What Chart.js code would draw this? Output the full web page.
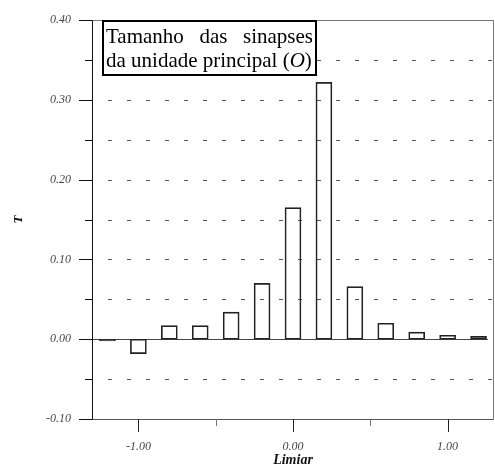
<!DOCTYPE html>
<html>
<head>
<meta charset="utf-8">
<script src="https://cdn.jsdelivr.net/npm/chart.js@4/dist/chart.umd.min.js"></script>
<style>
  html, body { margin: 0; padding: 0; background: #fff; }
  #wrap { width: 495px; height: 469px; }
</style>
</head>
<body>
<div id="wrap"><canvas id="c" width="495" height="469"></canvas></div>
<script>
// data
const thresholds = [-1.2, -1.0, -0.8, -0.6, -0.4, -0.2, 0.0, 0.2, 0.4, 0.6, 0.8, 1.0, 1.2]
const sizes      = [-0.002, -0.018, 0.017, 0.017, 0.034, 0.070, 0.165, 0.322, 0.066, 0.020, 0.009, 0.005, 0.0035]

const xTicks      = [-1, 0, 1]
const xMinorTicks = [-0.5, 0.5]
const yTicks      = [-0.1, 0, 0.1, 0.2, 0.3, 0.4]
const yMinorTicks = [-0.05, 0.05, 0.15, 0.25, 0.35]
const yGrid       = [-0.1, -0.05, 0, 0.05, 0.1, 0.15, 0.2, 0.25, 0.3, 0.35, 0.4]

const legendLine1 = ['Tamanho', 'das', 'sinapses']
const legendLine2 = ['da unidade principal (', 'O', ')']

const SERIF = "'Liberation Serif','Times New Roman',serif"
const TICK = { color: '#444', font: { family: SERIF, size: 12, style: 'italic' } }

// grid, frame, tick marks and the boxed caption
const framePlugin = {
  id: 'frame',
  beforeDatasetsDraw (chart) {
    const { ctx, chartArea: a, scales: { x, y } } = chart
    ctx.save()
    ctx.lineWidth = 1
    // dashed horizontal grid
    ctx.strokeStyle = '#555'
    ctx.setLineDash([4, 15])
    ctx.lineDashOffset = -16
    yGrid.forEach(v => {
      if (v === 0) return
      const py = Math.round(y.getPixelForValue(v)) + 0.5
      ctx.beginPath(); ctx.moveTo(a.left, py); ctx.lineTo(a.right, py); ctx.stroke()
    })
    ctx.setLineDash([])
    // zero line
    const z = Math.round(y.getPixelForValue(0)) + 0.5
    ctx.strokeStyle = '#444'
    ctx.beginPath(); ctx.moveTo(a.left, z); ctx.lineTo(a.right - 6, z); ctx.stroke()
    // frame
    const L = Math.round(a.left) + 0.5, R = Math.round(a.right) - 0.5
    const T = Math.round(a.top) + 0.5, B = Math.round(a.bottom) + 0.5
    ctx.strokeStyle = '#777'
    ctx.beginPath(); ctx.moveTo(L, T); ctx.lineTo(R, T); ctx.lineTo(R, B); ctx.stroke()
    ctx.strokeStyle = '#555'
    ctx.beginPath(); ctx.moveTo(L, B); ctx.lineTo(R, B); ctx.stroke()
    ctx.strokeStyle = '#111'
    ctx.beginPath(); ctx.moveTo(L, T); ctx.lineTo(L, B); ctx.stroke()
    // y tick marks
    yTicks.forEach(v => {
      const py = Math.round(y.getPixelForValue(v)) + 0.5
      ctx.strokeStyle = '#111'
      ctx.beginPath(); ctx.moveTo(a.left - 13, py); ctx.lineTo(a.left, py); ctx.stroke()
    })
    yMinorTicks.forEach(v => {
      const py = Math.round(y.getPixelForValue(v)) + 0.5
      ctx.strokeStyle = '#111'
      ctx.beginPath(); ctx.moveTo(a.left - 7, py); ctx.lineTo(a.left, py); ctx.stroke()
    })
    // x tick marks
    xTicks.forEach(v => {
      const px = Math.round(x.getPixelForValue(v)) + 0.5
      ctx.strokeStyle = '#222'
      ctx.beginPath(); ctx.moveTo(px, a.bottom); ctx.lineTo(px, a.bottom + 13); ctx.stroke()
    })
    xMinorTicks.forEach(v => {
      const px = Math.round(x.getPixelForValue(v)) + 0.5
      ctx.strokeStyle = '#777'
      ctx.beginPath(); ctx.moveTo(px, a.bottom); ctx.lineTo(px, a.bottom + 7); ctx.stroke()
    })
    ctx.restore()
  },
  afterDraw (chart) {
    const { ctx } = chart
    const bx = 103, by = 21, bw = 213, bh = 54
    ctx.save()
    ctx.fillStyle = '#fff'
    ctx.fillRect(bx, by, bw, bh)
    ctx.lineWidth = 2
    ctx.strokeStyle = '#000'
    ctx.strokeRect(bx, by, bw, bh)
    ctx.fillStyle = '#000'
    ctx.textBaseline = 'alphabetic'
    const reg = '21px ' + SERIF, ita = 'italic 21px ' + SERIF
    const x0 = bx + 3, x1 = bx + bw - 3
    // line 1, justified
    ctx.font = reg
    const wsum = legendLine1.reduce((s, w) => s + ctx.measureText(w).width, 0)
    const gap = (x1 - x0 - wsum) / (legendLine1.length - 1)
    let cx = x0
    legendLine1.forEach(w => { ctx.fillText(w, cx, by + 22); cx += ctx.measureText(w).width + gap })
    // line 2, with italic O
    cx = x0
    legendLine2.forEach((w, i) => {
      ctx.font = i === 1 ? ita : reg
      ctx.fillText(w, cx, by + 46)
      cx += ctx.measureText(w).width
    })
    ctx.restore()
  }
}

new Chart(document.getElementById('c'), {
  type: 'bar',
  data: {
    datasets: [{
      data: thresholds.map((t, i) => ({ x: t, y: sizes[i] })),
      backgroundColor: 'rgba(255,255,255,0)',
      borderColor: '#222',
      borderWidth: 1,
      borderSkipped: false,
      barThickness: 16
    }]
  },
  options: {
    responsive: false,
    animation: false,
    layout: { padding: { top: 17, right: 1, left: 0, bottom: 0 } },
    plugins: { legend: { display: false }, tooltip: { enabled: false } },
    scales: {
      x: {
        type: 'linear', min: -1.3, max: 1.3, offset: false,
        grid: { display: false }, border: { display: false },
        afterBuildTicks: s => { s.ticks = xTicks.map(v => ({ value: v })) },
        afterFit: s => { s.height = 50 },
        ticks: { ...TICK, padding: 13, maxRotation: 0, callback: v => v.toFixed(2) },
        title: { display: true, text: 'Limiar', color: '#111', padding: { top: 0, bottom: 0 },
          font: { family: SERIF, size: 14, style: 'italic', weight: 'bold' } }
      },
      y: {
        min: -0.1, max: 0.4,
        grid: { display: false }, border: { display: false },
        afterBuildTicks: s => { s.ticks = yTicks.map(v => ({ value: v })) },
        afterFit: s => { s.width = 92 },
        ticks: { ...TICK, padding: 13, callback: v => v.toFixed(2) },
        title: { display: true, text: 'T', color: '#111', padding: { top: 11, bottom: 0 },
          font: { family: SERIF, size: 13, style: 'italic', weight: 'bold' } }
      }
    }
  },
  plugins: [framePlugin]
})
</script>
</body>
</html>
